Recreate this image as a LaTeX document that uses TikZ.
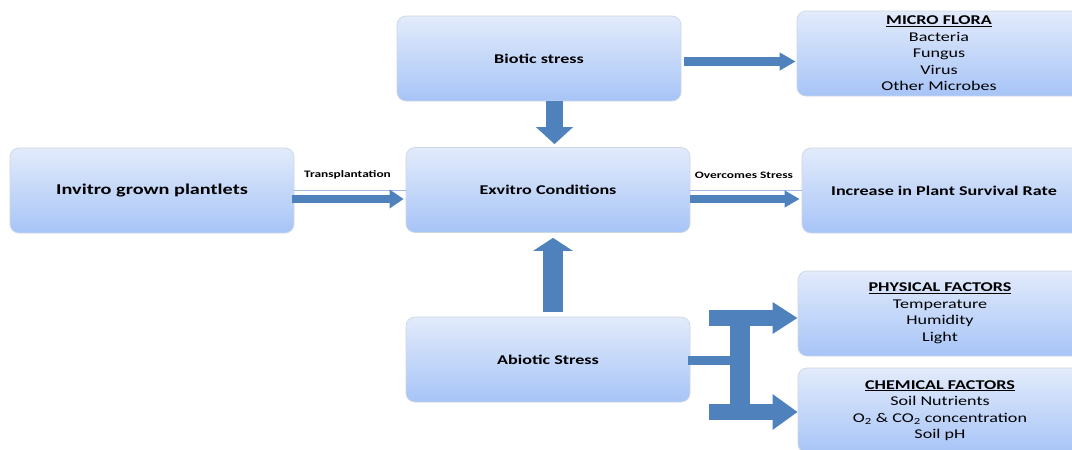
\documentclass[tikz,border=0pt]{standalone}
\usepackage{fontspec}
\setmainfont{Carlito}[FakeStretch=1.35]
\usetikzlibrary{arrows.meta,calc}
\definecolor{arrowblue}{HTML}{4F81BD}
\definecolor{boxtop}{HTML}{E2EBFB}
\definecolor{boxbot}{HTML}{A7C4F7}
\definecolor{boxline}{HTML}{CDD6E4}
\definecolor{thinblue}{HTML}{9FBBE0}
\tikzset{
  box/.style={draw=boxline, line width=0.7pt, rounded corners=9pt,
    top color=boxtop, bottom color=boxbot, minimum width=284pt,
    minimum height=85pt, inner sep=0pt, align=center,
    font=\fontsize{13.4}{16.5}\selectfont},
  bigtext/.style={font=\fontsize{15}{18}\selectfont\bfseries},
  midtext/.style={font=\fontsize{13.4}{16.5}\selectfont\bfseries},
  lbl/.style={inner sep=0pt, font=\fontsize{9.9}{12}\selectfont\bfseries},
  barrow/.style={draw=arrowblue, line cap=butt},
  thinline/.style={draw=thinblue, line width=0.6pt}
}
\begin{document}
\begin{tikzpicture}[x=1pt,y=-1pt]
\useasboundingbox (0,0) rectangle (1072,450);
\clip (0,0) rectangle (1072,450);
% boxes
\node[box, bigtext] (inv) at (152,190.5) {Invitro grown plantlets};
\node[box, midtext] (bio) at (539,58.5) {Biotic stress};
\node[box, midtext] (exv) at (548,190) {Exvitro Conditions};
\node[box, midtext] (abi) at (548,359.5) {Abiotic Stress};
\node[box, midtext] (inc) at (944,190.5) {Increase in Plant Survival Rate};
\node[box] (mic) at (939,53.5) {\textbf{\underline{MICRO FLORA}}\\Bacteria\\Fungus\\Virus\\Other Microbes};
\node[box] (phy) at (940,313.5) {\textbf{\underline{PHYSICAL FACTORS}}\\Temperature\\Humidity\\Light};
\node[box] (che) at (940,410.5) {\textbf{\underline{CHEMICAL FACTORS}}\\Soil Nutrients\\O\textsubscript{2} \& CO\textsubscript{2} concentration\\Soil pH};
% labels
\node[lbl] (tl) at (347.5,175) {Transplantation};
\node[lbl] (ol) at (744,175) {Overcomes Stress};
% thin lines
\draw[thinline] (inv.east) -- (inv.east -| exv.west);
\draw[thinline] (exv.east) -- (exv.east -| inc.west);
% block arrows
\draw[barrow, line width=8pt, -{Triangle[length=14pt,width=18pt]}]
  ($(inv.east)+(-2,8.5)$) -- ($(inv.east -| exv.west)+(-2,8.5)$);
\draw[barrow, line width=8pt, -{Triangle[length=15pt,width=16pt]}]
  ($(exv.east)+(0,9)$) -- ($(exv.east -| inc.west)+(-2,9)$);
\draw[barrow, line width=9pt, -{Triangle[length=16pt,width=17pt]}]
  ($(bio.east)+(3,3)$) -- ($(bio.east -| mic.west)+(-1,3)$);
\draw[barrow, line width=17pt, -{Triangle[length=17pt,width=36pt]}]
  ($(bio.south)+(15.5,0)$) -- ($(exv.north)+(6.5,-3)$);
\draw[barrow, line width=20pt, -{Triangle[length=13pt,width=39pt]}]
  ($(abi.north)+(5,-5)$) -- ($(exv.south)+(5,5)$);
% fork
\coordinate (fk) at (731,360.5);
\coordinate (fkt) at (740,325);
\coordinate (fkb) at (740,405);
\coordinate (pa) at (709,318);
\coordinate (pb) at (709,412);
\draw[barrow, line width=9pt] ($(abi.east)+(-2,1)$) -- (fk);
\draw[barrow, line width=20pt] (fkt) -- (fkb);
\draw[barrow, line width=16pt, -{Triangle[length=25pt,width=30pt]}] (pa) -- (pa -| phy.west);
\draw[barrow, line width=16pt, -{Triangle[length=25pt,width=34pt]}] (pb) -- (pb -| che.west);
\end{tikzpicture}
\end{document}
